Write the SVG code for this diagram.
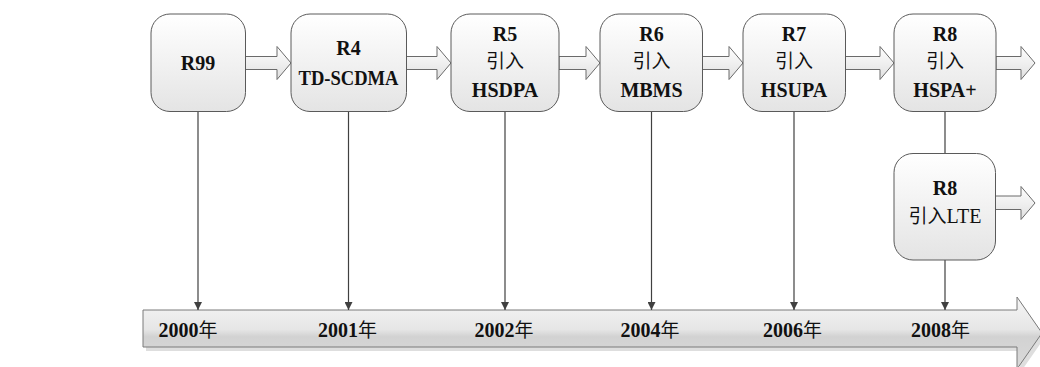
<svg xmlns="http://www.w3.org/2000/svg" width="1040" height="367" viewBox="0 0 1040 367">
<style>
.box{fill:url(#gBox);stroke:#5a5a5a;stroke-width:1}
.barrow{fill:url(#gArrow);stroke:#6a6a6a;stroke-width:1;stroke-linejoin:miter}
.vline{stroke:#404040;stroke-width:1.2;fill:none}
.t{font-family:"Liberation Serif","Noto Sans CJK SC",serif;font-size:20px;fill:#111;text-anchor:middle}
.b{font-weight:bold}
.n{font-weight:normal}
.cjk{font-family:"Noto Sans CJK SC","Liberation Serif",serif;font-weight:normal;font-size:19px}
</style>
<defs>
<linearGradient id="gBox" x1="0" y1="0" x2="0" y2="1">
<stop offset="0" stop-color="#ffffff"/>
<stop offset="1" stop-color="#e4e4e4"/>
</linearGradient>
<linearGradient id="gArrow" x1="0" y1="0" x2="0" y2="1">
<stop offset="0" stop-color="#ffffff"/>
<stop offset="1" stop-color="#e0e0e0"/>
</linearGradient>
<linearGradient id="gBar" x1="0" y1="0" x2="0" y2="1">
<stop offset="0" stop-color="#f6f6f6"/>
<stop offset="0.45" stop-color="#e6e6e6"/>
<stop offset="0.55" stop-color="#d2d2d2"/>
<stop offset="1" stop-color="#dadada"/>
</linearGradient>
<marker id="ah" viewBox="0 0 10 10" refX="10" refY="5" markerWidth="8" markerHeight="8" markerUnits="userSpaceOnUse" orient="auto">
<path d="M0,0 L10,5 L0,10 Z" fill="#404040"/>
</marker>
</defs>

<g id="timeline">
<polygon points="146,314 1020,314 1020,301 1045,337 1020,373 1020,351 146,351" fill="#c8c8c8" opacity="0.6"/>
<polygon points="143,310 1017,310 1017,297 1042,333 1017,369 1017,347 143,347" fill="url(#gBar)" stroke="#7a7a7a" stroke-width="1"/>
<text class="t b" x="188" y="337">2000<tspan class="cjk">年</tspan></text>
<text class="t b" x="347.5" y="337">2001<tspan class="cjk">年</tspan></text>
<text class="t b" x="504" y="337">2002<tspan class="cjk">年</tspan></text>
<text class="t b" x="650" y="337">2004<tspan class="cjk">年</tspan></text>
<text class="t b" x="792.5" y="337">2006<tspan class="cjk">年</tspan></text>
<text class="t b" x="940.5" y="337">2008<tspan class="cjk">年</tspan></text>
</g>

<g id="connectors">
<line class="vline" x1="198" y1="111.5" x2="198" y2="310" marker-end="url(#ah)"/>
<line class="vline" x1="348.5" y1="111.5" x2="348.5" y2="310" marker-end="url(#ah)"/>
<line class="vline" x1="505" y1="111.5" x2="505" y2="310" marker-end="url(#ah)"/>
<line class="vline" x1="651.5" y1="111.5" x2="651.5" y2="310" marker-end="url(#ah)"/>
<line class="vline" x1="794" y1="111.5" x2="794" y2="310" marker-end="url(#ah)"/>
<line class="vline" x1="945" y1="111.5" x2="945" y2="153.5"/>
<line class="vline" x1="945" y1="260" x2="945" y2="310" marker-end="url(#ah)"/>
<polygon class="barrow" points="245.5,56.5 277,56.5 277,46.5 291,63 277,79.5 277,69.5 245.5,69.5"/>
<polygon class="barrow" points="406.5,56.5 437,56.5 437,46.5 451,63 437,79.5 437,69.5 406.5,69.5"/>
<polygon class="barrow" points="559,56.5 586,56.5 586,46.5 600,63 586,79.5 586,69.5 559,69.5"/>
<polygon class="barrow" points="702.5,56.5 729,56.5 729,46.5 743,63 729,79.5 729,69.5 702.5,69.5"/>
<polygon class="barrow" points="845.5,56.5 880,56.5 880,46.5 894,63 880,79.5 880,69.5 845.5,69.5"/>
<polygon class="barrow" points="996,56.5 1021,56.5 1021,46.5 1035,63 1021,79.5 1021,69.5 996,69.5"/>
<polygon class="barrow" points="995.5,196 1021,196 1021,186.5 1035,203 1021,219.5 1021,209.5 995.5,209.5"/>
</g>

<g id="node-r99">
<rect class="box" x="151" y="14" width="94.5" height="97.5" rx="19"/>
<text class="t b" x="198" y="70">R99</text>
</g>
<g id="node-r4">
<rect class="box" x="291" y="14" width="115.5" height="97.5" rx="19"/>
<text class="t b" x="348.5" y="55">R4</text>
<text class="t b" x="348.5" y="85" textLength="100" lengthAdjust="spacingAndGlyphs">TD-SCDMA</text>
</g>
<g id="node-r5">
<rect class="box" x="451" y="14" width="108" height="97.5" rx="19"/>
<text class="t b" x="505" y="41">R5</text>
<text class="t cjk" x="505" y="68">引入</text>
<text class="t b" x="505" y="97">HSDPA</text>
</g>
<g id="node-r6">
<rect class="box" x="600" y="14" width="102.5" height="97.5" rx="19"/>
<text class="t b" x="651.5" y="41">R6</text>
<text class="t cjk" x="651.5" y="68">引入</text>
<text class="t b" x="651.5" y="97">MBMS</text>
</g>
<g id="node-r7">
<rect class="box" x="743" y="14" width="102.5" height="97.5" rx="19"/>
<text class="t b" x="794" y="41">R7</text>
<text class="t cjk" x="794" y="68">引入</text>
<text class="t b" x="794" y="97">HSUPA</text>
</g>
<g id="node-r8">
<rect class="box" x="894" y="14" width="102" height="97.5" rx="19"/>
<text class="t b" x="945" y="41">R8</text>
<text class="t cjk" x="945" y="68">引入</text>
<text class="t b" x="945" y="97">HSPA+</text>
</g>
<g id="node-r8-lte">
<rect class="box" x="894" y="153.5" width="101.5" height="106.5" rx="19"/>
<text class="t b" x="945" y="195">R8</text>
<text class="t n" x="945" y="223"><tspan class="cjk">引入</tspan>LTE</text>
</g>
</svg>
